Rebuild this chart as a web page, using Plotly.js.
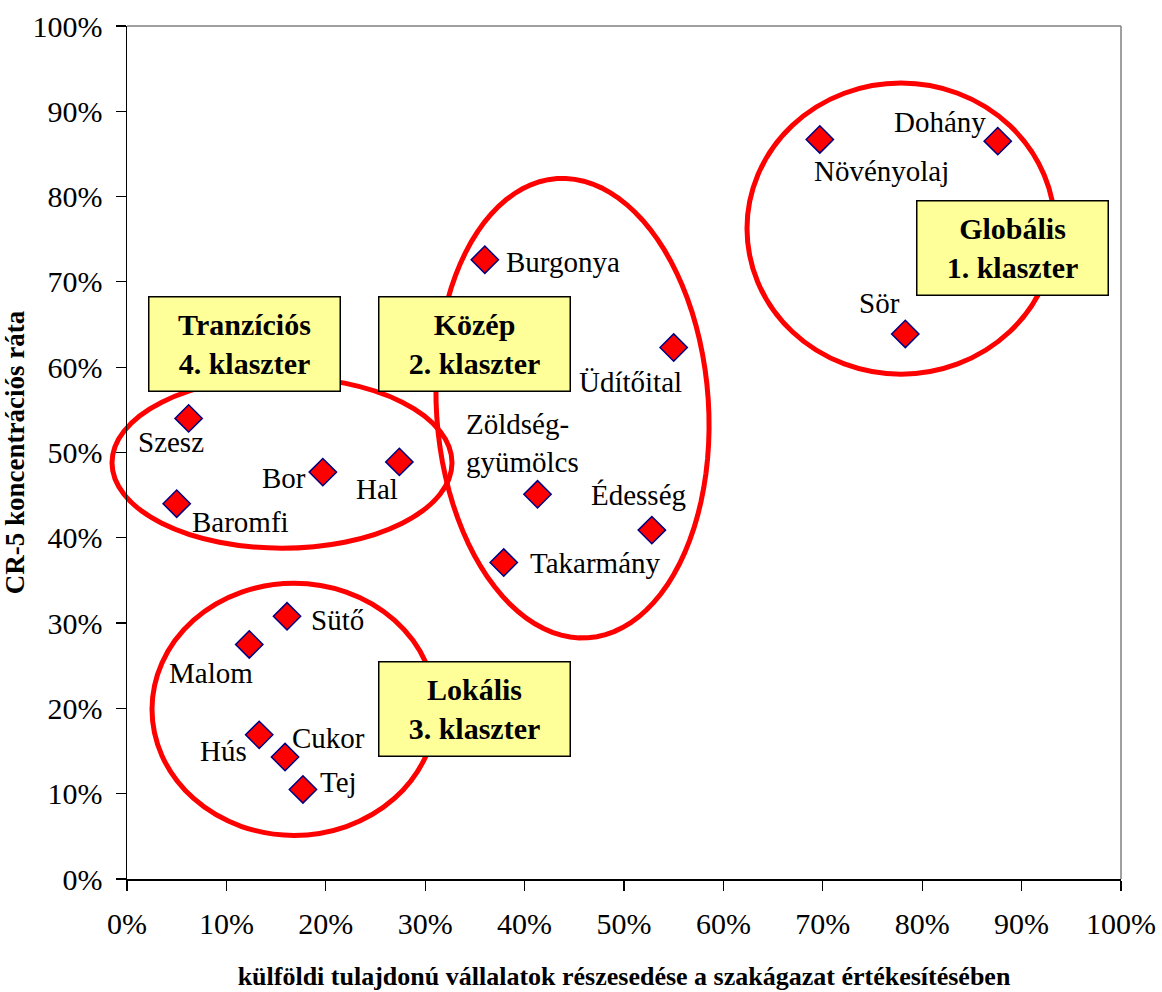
<!DOCTYPE html>
<html>
<head>
<meta charset="utf-8">
<script src="https://cdn.plot.ly/plotly-3.0.1.min.js"></script>
<style>html,body{margin:0;padding:0;background:#fff}#chart{width:1162px;height:992px}</style>
</head>
<body>
<div id="chart"></div>
<script>
// ---- data ----
const sectors = ['Szesz','Baromfi','Bor','Hal','Burgonya','Üdítőital','Zöldség-<br>gyümölcs','Édesség','Takarmány','Sütő','Malom','Hús','Cukor','Tej','Növényolaj','Dohány','Sör'];
const foreignShare = [0.062,0.050,0.197,0.274,0.360,0.550,0.413,0.528,0.379,0.161,0.123,0.133,0.159,0.177,0.697,0.876,0.783];
const cr5Ratio     = [0.540,0.440,0.477,0.489,0.726,0.623,0.451,0.409,0.371,0.308,0.275,0.169,0.143,0.105,0.867,0.865,0.639];
const clusterLabels = ['Globális<br>1. klaszter','Közép<br>2. klaszter','Lokális<br>3. klaszter','Tranzíciós<br>4. klaszter'];
const xTickVals = [0,0.1,0.2,0.3,0.4,0.5,0.6,0.7,0.8,0.9,1];
const yTickVals = [0,0.1,0.2,0.3,0.4,0.5,0.6,0.7,0.8,0.9,1];

// ---- layout helpers (pixel offsets of labels from their marker) ----
const labelOffsets = [[-18,24],[64,18],[-39,6],[-22,27],[78,2],[-43,34],[-15,-51],[-13,-35],[92,0],[50,4],[-38,29],[-36,16],[43,-19],[36,-7],[62,32],[-58,-19],[-26,-31]];
const clusterBoxPos = [[0.8913,0.7395],[0.3501,0.6275],[0.3501,0.1988],[0.1182,0.6275]];

const FONT = 'Liberation Serif, Times New Roman, serif';
const L = 127, T = 26, PW = 994, PH = 852.6;
const px2x = p => (p - L) / PW;
const px2y = p => (T + PH - p) / PH;

// tilted ellipse for cluster 2
function tiltedEllipse(cx, cy, a, b, ux, uy) {
  const n = Math.hypot(ux, uy); ux /= n; uy /= n;
  const vx = uy, vy = -ux;
  let d = '';
  for (let i = 0; i <= 96; i++) {
    const t = i / 96 * 2 * Math.PI;
    const X = cx + a * Math.cos(t) * ux + b * Math.sin(t) * vx;
    const Y = cy + a * Math.cos(t) * uy + b * Math.sin(t) * vy;
    d += (i === 0 ? 'M' : 'L') + px2x(X).toFixed(5) + ',' + px2y(Y).toFixed(5);
  }
  return d + 'Z';
}

const ellLine = {color: '#ff0000', width: 5};
const shapes = [
  {type: 'circle', xref: 'paper', yref: 'paper', layer: 'below', x0: px2x(747), x1: px2x(1055), y0: px2y(374), y1: px2y(83), line: ellLine},
  {type: 'path', xref: 'paper', yref: 'paper', layer: 'below', path: tiltedEllipse(572.5, 408, 230, 136, 31, 460), line: ellLine},
  {type: 'circle', xref: 'paper', yref: 'paper', layer: 'below', x0: px2x(152), x1: px2x(436), y0: px2y(835), y1: px2y(583), line: ellLine},
  {type: 'circle', xref: 'paper', yref: 'paper', layer: 'below', x0: px2x(112), x1: px2x(452), y0: px2y(548), y1: px2y(377), line: ellLine},
  {type: 'line', xref: 'paper', yref: 'paper', x0: 0, x1: 1, y0: 1, y1: 1, line: {color: '#808080', width: 1.5}},
  {type: 'line', xref: 'paper', yref: 'paper', x0: 1, x1: 1, y0: 0, y1: 1, line: {color: '#808080', width: 1.5}}
];

const annotations = [];
sectors.forEach((s, i) => {
  annotations.push({
    x: foreignShare[i], y: cr5Ratio[i], xref: 'x', yref: 'y', text: s, showarrow: false,
    xanchor: 'center', yanchor: 'middle',
    xshift: labelOffsets[i][0], yshift: -labelOffsets[i][1], align: 'left',
    font: {family: FONT, size: 29, color: '#000'}
  });
});
clusterLabels.forEach((c, i) => {
  annotations.push({
    x: clusterBoxPos[i][0], y: clusterBoxPos[i][1], xref: 'paper', yref: 'paper',
    xanchor: 'center', yanchor: 'middle',
    text: '<b>' + c.split('<br>').join('</b><br><b>') + '</b>', showarrow: false,
    bgcolor: '#ffff99', bordercolor: '#000', borderwidth: 1.5, borderpad: 0,
    width: 190, height: 93, align: 'center', valign: 'middle',
    font: {family: FONT, size: 30, color: '#000'}
  });
});

const trace = {
  type: 'scatter', mode: 'markers', x: foreignShare, y: cr5Ratio, text: sectors,
  hoverinfo: 'text',
  marker: {symbol: 'diamond', size: 21, color: '#ff0000', line: {color: '#000080', width: 1.5}},
  cliponaxis: false, showlegend: false
};

const axisCommon = {
  range: [0, 1], tickformat: '.0%', showgrid: false, zeroline: false,
  showline: true, linecolor: '#000', linewidth: 1.5, ticks: 'outside', ticklen: 10,
  tickcolor: '#000', tickwidth: 1.2, tickfont: {family: FONT, size: 30, color: '#000'},
  fixedrange: true
};

const layout = {
  width: 1162, height: 992,
  margin: {l: L, r: 1162 - L - PW, t: T, b: 992 - T - PH},
  paper_bgcolor: '#fff', plot_bgcolor: 'rgba(0,0,0,0)',
  font: {family: FONT, color: '#000'},
  xaxis: Object.assign({}, axisCommon, {
    tickvals: xTickVals, ticklabelstandoff: 7,
    title: {text: '<b>külföldi tulajdonú vállalatok részesedése a szakágazat értékesítésében</b>', font: {family: FONT, size: 26, color: '#000'}, standoff: 28}
  }),
  yaxis: Object.assign({}, axisCommon, {
    tickvals: yTickVals, ticklabelstandoff: 7,
    title: {text: '<b>CR-5 koncentrációs ráta</b>', font: {family: FONT, size: 27, color: '#000'}, standoff: 0}
  }),
  shapes: shapes,
  annotations: annotations,
  showlegend: false
};

Plotly.newPlot('chart', [trace], layout, {displayModeBar: false, staticPlot: true});
</script>
</body>
</html>
